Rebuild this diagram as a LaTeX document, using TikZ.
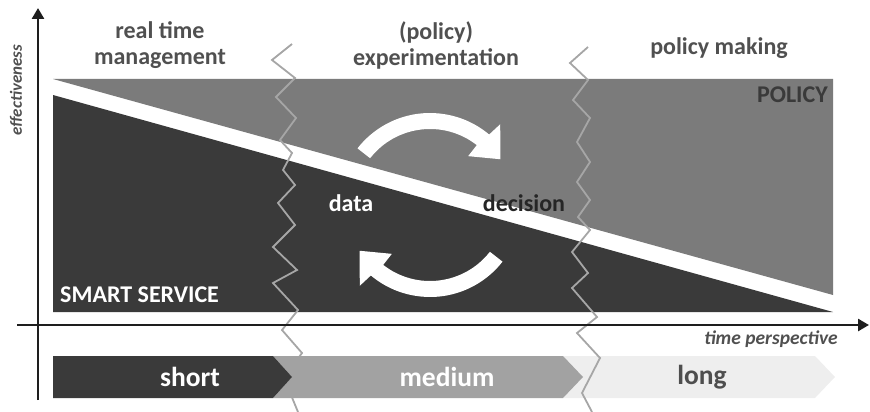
\documentclass[tikz,border=0pt]{standalone}
\usepackage{fontspec}
\setmainfont{Carlito}
\usetikzlibrary{arrows.meta,calc}

\definecolor{darkfill}{HTML}{3A3A3A}
\definecolor{midfill}{HTML}{7B7B7B}
\definecolor{chevmid}{HTML}{A2A2A2}
\definecolor{chevlight}{HTML}{EEEEEE}
\definecolor{zigline}{HTML}{A6A6A6}
\definecolor{headtext}{HTML}{505050}
\definecolor{axisline}{HTML}{1E1E1E}

\tikzset{
  headlabel/.style={font=\fontsize{24}{26}\selectfont\bfseries, text=headtext, align=center, inner sep=0pt},
  arealabel/.style={font=\fontsize{24}{26}\selectfont\bfseries, inner sep=0pt},
  axislabel/.style={font=\fontsize{19.5}{22}\selectfont\bfseries\itshape, text=headtext, inner sep=0pt},
  barlabel/.style={font=\fontsize{27.5}{30}\selectfont\bfseries, inner sep=0pt},
  zigzag/.style={draw=zigline, line width=1.8pt, line join=miter},
  axisarrow/.style={draw=axisline, line width=2.6pt, -{Triangle[length=11pt,width=12pt]}},
  cyclearrow/.style={fill=white},
}

\begin{document}
\begin{tikzpicture}[x=1pt,y=-1pt]
\useasboundingbox (0,0) rectangle (870,412);

% upper (policy) and lower (smart service) triangles
\fill[midfill] (53,79) -- (833,79) -- (833,295) -- cycle;
\fill[darkfill] (53,95) -- (833,312) -- (53,312) -- cycle;

% long-term chevron lies beneath the period separators
\fill[chevlight] (563,356) -- (815,356) -- (835,377) -- (815,398) -- (563,398) -- (583,377) -- cycle;

% period separators
\draw[zigzag] (292,44) -- (272,60) -- (295,78) -- (276,97) -- (296,118) -- (280,140)
  -- (292,153) -- (283,170) -- (295,185) -- (278,203) -- (295,225) -- (273,247)
  -- (297,270) -- (273,283) -- (298,310) -- (282,330) -- (302,353) -- (284,378) -- (298,412);
\draw[zigzag] (588,47) -- (570,63) -- (588,80) -- (573,100) -- (590,118) -- (577,142)
  -- (590,162) -- (577,182) -- (590,200) -- (578,217) -- (590,230) -- (572,252)
  -- (588,273) -- (572,288) -- (597,317) -- (577,333) -- (600,358) -- (582,393) -- (592,412);

% short and medium chevrons
\fill[chevmid] (273,356) -- (563,356) -- (583,377) -- (563,398) -- (273,398) -- (292,377) -- cycle;
\fill[darkfill] (53,356) -- (273,356) -- (292,377) -- (273,398) -- (53,398) -- cycle;

% data / decision cycle
\coordinate (cyc) at (430,205);
\fill[cyclearrow] ($(cyc)+(-50:92)$) arc[start angle=-50,end angle=-142,radius=92]
  -- ($(cyc)+(-142:76)$) arc[start angle=-142,end angle=-52,radius=76]
  -- ($(cyc)+(-52:62)$) -- ($(cyc)+(-33:84)$) -- ($(cyc)+(-49:107)$) -- cycle;
\fill[cyclearrow] ($(cyc)+(130:92)$) arc[start angle=130,end angle=38,radius=92]
  -- ($(cyc)+(38:76)$) arc[start angle=38,end angle=128,radius=76]
  -- ($(cyc)+(128:62)$) -- ($(cyc)+(147:84)$) -- ($(cyc)+(131:107)$) -- cycle;

% axes
\coordinate (yfoot) at (38,400);
\coordinate (ytip) at (38,8);
\coordinate (xfoot) at (17,325);
\coordinate (xtip) at (869,325);
\draw[axisarrow] (yfoot) -- (ytip);
\draw[axisarrow] (xfoot) -- (xtip);

% labels
\node[headlabel] (rtm) at (160,45) {real time\\management};
\node[headlabel] (exp) at (436,45) {(policy)\\experimentation};
\node[headlabel] (pm) at (719,48) {policy making};
\node[arealabel, text=darkfill, anchor=east] (pol) at (828,95) {POLICY};
\node[arealabel, text=white, anchor=west] (ss) at (60,295) {SMART SERVICE};
\node[arealabel, text=white] (data) at (351,203) {data};
\node[arealabel, text=black!85] (dec) at (524,203) {decision};
\node[axislabel, font=\fontsize{17}{19}\selectfont\bfseries\itshape, rotate=90] (eff) at (16,90) {effectiveness};
\node[axislabel, anchor=east] (tp) at (838,339) {time perspective};
\node[barlabel, text=white] (short) at (190,377) {short};
\node[barlabel, text=white] (medium) at (447,377) {medium};
\node[barlabel, text=darkfill!90] (long) at (702,377) {long};
\end{tikzpicture}
\end{document}
